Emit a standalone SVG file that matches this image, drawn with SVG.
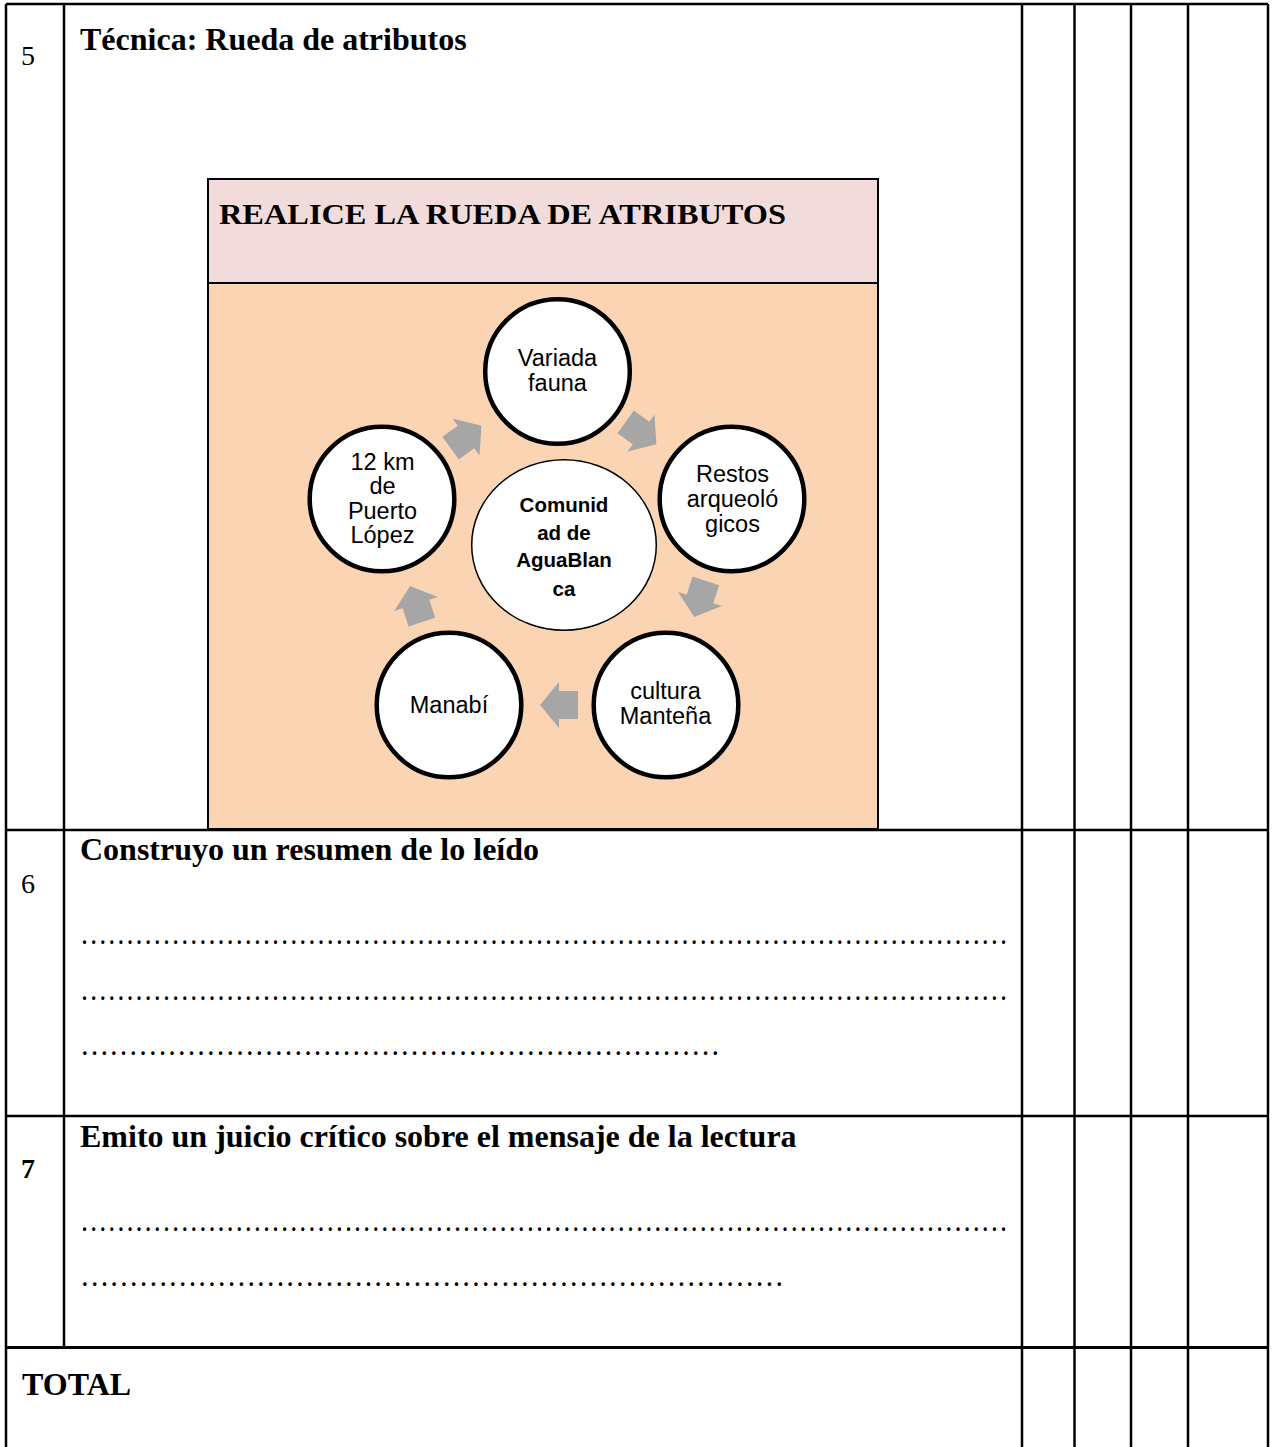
<svg xmlns="http://www.w3.org/2000/svg" width="1275" height="1447" viewBox="0 0 1275 1447">
<style>
.tl{stroke:#000;stroke-width:2.5;fill:none}
.h{font-family:"Liberation Serif","Times New Roman",serif;font-weight:bold;font-size:32px;fill:#000}
.num{font-family:"Liberation Serif","Times New Roman",serif;font-size:28px;fill:#000}
.dots{font-family:"Liberation Serif","Times New Roman",serif;font-size:32px;fill:#000}
.node circle{fill:#fff;stroke:#000;stroke-width:4.5}
.node text{font-family:"Liberation Sans",Arial,sans-serif;font-size:23.5px;fill:#000;text-anchor:middle}
.ctr ellipse{fill:#fff;stroke:#000;stroke-width:1.5}
.ctr text{font-family:"Liberation Sans",Arial,sans-serif;font-size:20.5px;font-weight:bold;fill:#000;text-anchor:middle}
.arr{fill:#A6A6A6}
</style>
<defs>
<path id="blk" d="M -19,-14 L 0,-14 L 0,-23 L 19,0 L 0,23 L 0,14 L -19,14 Z"/>
</defs>
<rect width="1275" height="1447" fill="#fff"/>
<g id="table">
<line class="tl" x1="6" y1="4" x2="1268" y2="4"/>
<line class="tl" x1="6" y1="830" x2="1268" y2="830"/>
<line class="tl" x1="6" y1="1116" x2="1268" y2="1116"/>
<line class="tl" x1="6" y1="1347.5" x2="1268" y2="1347.5" style="stroke-width:3"/>
<line class="tl" x1="6" y1="4" x2="6" y2="1447"/>
<line class="tl" x1="64" y1="4" x2="64" y2="1347.5"/>
<line class="tl" x1="1022" y1="4" x2="1022" y2="1447"/>
<line class="tl" x1="1074.5" y1="4" x2="1074.5" y2="1447"/>
<line class="tl" x1="1131" y1="4" x2="1131" y2="1447"/>
<line class="tl" x1="1188" y1="4" x2="1188" y2="1447"/>
<line class="tl" x1="1268" y1="4" x2="1268" y2="1447"/>
<text class="num" x="21" y="65">5</text>
<text class="num" x="21" y="893">6</text>
<text class="num" x="21" y="1178" font-weight="bold">7</text>
<text class="h" x="80" y="50">Técnica: Rueda de atributos</text>
<text class="h" x="80" y="860">Construyo un resumen de lo leído</text>
<text class="h" x="80" y="1147">Emito un juicio crítico sobre el mensaje de la lectura</text>
<text class="h" x="22" y="1395">TOTAL</text>
<text class="dots" x="80" y="944" textLength="928" lengthAdjust="spacingAndGlyphs">…………………………………………………………………………………………</text>
<text class="dots" x="80" y="1000" textLength="928" lengthAdjust="spacingAndGlyphs">…………………………………………………………………………………………</text>
<text class="dots" x="80" y="1055" textLength="640" lengthAdjust="spacingAndGlyphs">…………………………………………………………</text>
<text class="dots" x="80" y="1231" textLength="928" lengthAdjust="spacingAndGlyphs">…………………………………………………………………………………………</text>
<text class="dots" x="80" y="1286" textLength="704" lengthAdjust="spacingAndGlyphs">………………………………………………………………</text>
</g>
<g id="panel">
<rect x="208" y="179" width="670" height="104" fill="#F2DCDB" stroke="#000" stroke-width="2"/>
<rect x="208" y="283" width="670" height="546" fill="#FBD4B4" stroke="#000" stroke-width="2"/>
<text class="h" x="219" y="224" style="font-size:29px" textLength="567" lengthAdjust="spacingAndGlyphs">REALICE LA RUEDA DE ATRIBUTOS</text>
</g>
<g id="connectors">
<use href="#blk" class="arr" transform="translate(466,437) rotate(-36)"/>
<use href="#blk" class="arr" transform="translate(641,433) rotate(36)"/>
<use href="#blk" class="arr" transform="translate(700,599) rotate(108)"/>
<use href="#blk" class="arr" transform="translate(559,705) rotate(180)"/>
<use href="#blk" class="arr" transform="translate(416,604) rotate(252)"/>
</g>
<g id="center" class="ctr">
<ellipse cx="564" cy="545" rx="92.3" ry="85.3"/>
<text x="564" y="512">Comunid</text>
<text x="564" y="539.5">ad de</text>
<text x="564" y="567">AguaBlan</text>
<text x="564" y="595.5">ca</text>
</g>
<g id="node-fauna" class="node">
<circle cx="557.5" cy="371.5" r="72.3"/>
<text x="557.5" y="366">Variada</text>
<text x="557.5" y="391">fauna</text>
</g>
<g id="node-restos" class="node">
<circle cx="732" cy="499" r="72.3"/>
<text x="732.5" y="482">Restos</text>
<text x="732.5" y="507">arqueoló</text>
<text x="732.5" y="532">gicos</text>
</g>
<g id="node-manteña" class="node">
<circle cx="666" cy="705" r="72.3"/>
<text x="665.5" y="699">cultura</text>
<text x="665.5" y="724">Manteña</text>
</g>
<g id="node-manabi" class="node">
<circle cx="449" cy="705" r="72.3"/>
<text x="449" y="713">Manabí</text>
</g>
<g id="node-puerto" class="node">
<circle cx="382" cy="499" r="72.3"/>
<text x="382.5" y="469.5">12 km</text>
<text x="382.5" y="494">de</text>
<text x="382.5" y="518.5">Puerto</text>
<text x="382.5" y="543">López</text>
</g>
</svg>
